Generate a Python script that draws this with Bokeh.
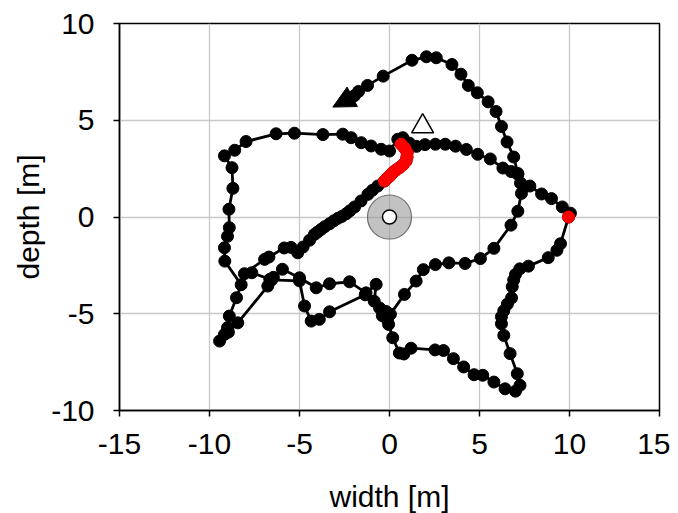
from bokeh.plotting import figure
from bokeh.models import Range1d, FixedTicker, Arrow, NormalHead
from bokeh.embed import file_html
from bokeh.resources import INLINE

# ---- data (width [m], depth [m]) ----
seg_start = [(0.74, 4.10)]
seg_red = [(0.65, 3.76), (0.85, 3.55), (0.98, 3.33), (0.97, 3.10), (0.92, 2.90),
           (0.75, 2.70), (0.55, 2.55), (0.35, 2.42), (0.18, 2.29), (0.02, 2.12),
           (-0.10, 2.03), (-0.28, 1.86)]
seg_diag = [(-0.65, 1.60), (-0.95, 1.38), (-1.20, 1.17), (-1.58, 0.83), (-1.94, 0.52),
            (-2.20, 0.32), (-2.40, 0.17), (-2.65, 0.03), (-2.87, -0.07), (-3.10, -0.20),
            (-3.33, -0.35), (-3.60, -0.50), (-3.80, -0.64), (-4.00, -0.78), (-4.17, -0.90),
            (-4.44, -1.20), (-4.80, -1.55)]
seg_tangle = [(-5.10, -1.85), (-5.47, -1.57), (-5.85, -1.60), (-6.70, -2.07), (-6.94, -2.19),
              (-8.06, -2.93), (-7.65, -2.88), (-6.65, -3.22), (-6.45, -3.12), (-5.95, -2.70),
              (-5.00, -3.14), (-4.07, -3.66), (-3.33, -3.45), (-2.22, -3.35), (-1.30, -3.92),
              (-0.74, -3.48), (-0.85, -4.35), (-1.35, -4.02), (-3.33, -4.90), (-3.90, -5.29),
              (-4.35, -5.38), (-4.72, -4.60), (-5.00, -3.30), (-6.55, -3.25), (-6.76, -3.57),
              (-8.43, -5.47), (-8.95, -5.95), (-9.44, -6.41), (-9.17, -6.07), (-9.00, -5.72),
              (-8.90, -5.12), (-8.50, -4.17), (-8.24, -3.50)]
seg_left_loop = [(-9.15, -2.28), (-9.17, -1.59), (-9.00, -1.00), (-8.90, -0.55), (-8.92, 0.40),
                 (-8.70, 1.48), (-8.75, 2.55), (-9.17, 3.16), (-8.60, 3.45), (-7.97, 3.90),
                 (-6.30, 4.30), (-5.28, 4.33), (-3.70, 4.26), (-2.60, 4.28), (-2.13, 4.10),
                 (-1.57, 3.84), (-1.02, 3.67), (-0.46, 3.50), (0.00, 3.41), (0.46, 4.02)]
seg_upper_arc = [(1.10, 3.82), (1.50, 3.65), (1.97, 3.74), (2.55, 3.76), (3.10, 3.76),
                 (3.67, 3.66), (4.27, 3.49), (4.90, 3.24), (5.60, 3.00), (6.30, 2.53),
                 (6.76, 2.35), (7.13, 2.21), (7.80, 1.60), (8.45, 1.19), (9.00, 0.95),
                 (9.60, 0.52), (10.05, 0.20), (9.95, 0.00)]
seg_lower_loop = [(9.50, -1.38), (9.30, -1.72), (8.82, -2.10), (7.72, -2.54), (7.24, -2.68),
                  (7.00, -2.97), (6.90, -3.25), (6.82, -3.60), (6.78, -4.18), (6.55, -4.50),
                  (6.35, -4.85), (6.22, -5.15), (6.22, -5.52), (6.35, -6.12), (6.70, -7.06),
                  (7.10, -8.10), (7.25, -8.70), (7.00, -9.00), (6.42, -8.88), (5.80, -8.53),
                  (5.18, -8.18), (4.70, -8.15), (4.12, -7.75), (3.55, -7.32), (3.00, -6.90),
                  (2.53, -6.87), (1.20, -6.78), (0.80, -7.08), (0.55, -7.03), (0.18, -6.24),
                  (-0.05, -5.55), (-0.12, -5.30), (-0.40, -5.10), (-0.55, -4.70), (-0.20, -4.88),
                  (0.05, -5.02)]
seg_return = [(0.83, -4.00), (1.48, -3.31), (1.88, -2.72), (2.55, -2.46), (3.30, -2.37),
              (4.20, -2.40), (5.05, -2.15), (5.80, -1.62), (6.75, -0.42), (7.13, 0.30),
              (7.33, 1.22), (7.28, 1.75), (7.13, 2.25), (6.90, 3.10), (6.53, 3.88),
              (6.22, 4.68), (5.92, 5.45), (5.48, 5.95), (4.88, 6.42), (4.38, 6.80),
              (3.97, 7.38), (3.47, 7.88), (2.60, 8.23), (2.05, 8.28), (1.25, 8.10),
              (-0.35, 7.28), (-1.22, 6.80), (-1.72, 6.49), (-1.95, 6.27)]
red_extra = [(9.95, 0.00)]
arrow_tip = (-3.15, 5.68)
start_marker = (1.84, 4.68)
beacon = (0.0, 0.0)

x_ticks = [-15, -10, -5, 0, 5, 10, 15]
y_ticks = [-10, -5, 0, 5, 10]

track = seg_start + seg_red + seg_diag + seg_tangle + seg_left_loop + seg_upper_arc + seg_lower_loop + seg_return
path_x = [p[0] for p in track]
path_y = [p[1] for p in track]
red_pts = seg_red + red_extra
red_x = [p[0] for p in red_pts]
red_y = [p[1] for p in red_pts]

FONT = "Liberation Sans"

p = figure(frame_width=540, frame_height=387,
           min_border_left=119, min_border_right=11, min_border_top=23, min_border_bottom=96,
           x_range=Range1d(-15, 15), y_range=Range1d(-10, 10),
           output_backend="svg", toolbar_location=None,
           background_fill_color="white", border_fill_color="white")

p.outline_line_color = "black"
p.outline_line_width = 1.5
p.outline_line_alpha = 1.0

for ax in (p.xaxis, p.yaxis):
    ax.axis_line_color = "black"
    ax.axis_line_width = 1.5
    ax.major_tick_line_color = "black"
    ax.major_tick_line_width = 1.5
    ax.major_tick_in = 0
    ax.major_tick_out = 6
    ax.minor_tick_line_color = None
    ax.major_label_text_font = FONT
    ax.major_label_text_font_size = "30px"
    ax.major_label_text_color = "black"
    ax.axis_label_text_font = FONT
    ax.axis_label_text_font_size = "30px"
    ax.axis_label_text_font_style = "normal"
    ax.axis_label_text_color = "black"

p.xaxis.ticker = FixedTicker(ticks=x_ticks)
p.yaxis.ticker = FixedTicker(ticks=y_ticks)
p.xaxis.major_label_overrides = {t: str(t) for t in x_ticks}
p.yaxis.major_label_overrides = {t: str(t) for t in y_ticks}
p.xaxis.axis_label = "width [m]"
p.yaxis.axis_label = "depth [m]"
p.xaxis.major_label_standoff = 17
p.yaxis.major_label_standoff = 19
p.xaxis.axis_label_standoff = 23
p.yaxis.axis_label_standoff = 3

p.xgrid.ticker = FixedTicker(ticks=x_ticks)
p.ygrid.ticker = FixedTicker(ticks=y_ticks)
for g in (p.xgrid, p.ygrid):
    g.grid_line_color = "#c8c8c8"
    g.grid_line_width = 1.3

# beacon
p.scatter([beacon[0]], [beacon[1]], size=44, marker="circle",
          fill_color="#9a9a9a", fill_alpha=0.6, line_color="#6e6e6e", line_width=1.2)
p.scatter([beacon[0]], [beacon[1]], size=14, marker="circle",
          fill_color="white", line_color="black", line_width=1.5)

# track
p.line(path_x, path_y, line_color="black", line_width=2.8)
p.scatter(path_x, path_y, size=12, marker="circle", fill_color="black", line_color="black")
p.scatter(red_x, red_y, size=12, marker="circle", fill_color="#ff0000", line_color="#ff0000")

# start triangle
p.scatter([start_marker[0]], [start_marker[1]], size=22, marker="triangle",
          fill_color="white", line_color="black", line_width=1.5)

# end arrow
p.add_layout(Arrow(end=NormalHead(size=22, fill_color="black", line_color="black"),
                   x_start=path_x[-1], y_start=path_y[-1],
                   x_end=arrow_tip[0], y_end=arrow_tip[1],
                   line_color="black", line_width=2.8))

open("out.html", "w").write(file_html(p, INLINE))
